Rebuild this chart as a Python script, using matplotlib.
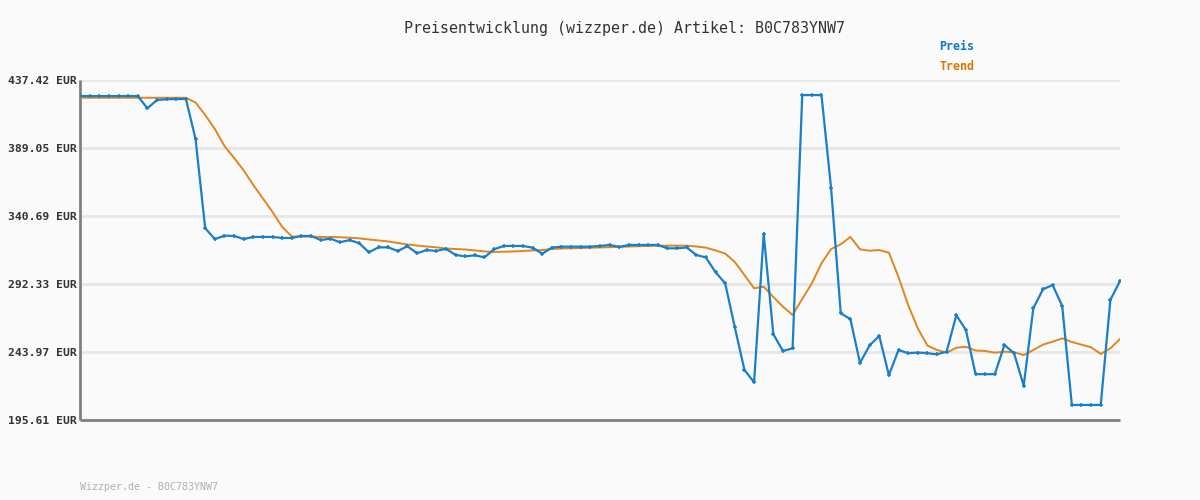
import numpy as np
import matplotlib
matplotlib.use("Agg")
import matplotlib.pyplot as plt

# Preisdaten (EUR)
preis = [426.0, 426.0, 426.0, 426.0, 426.0, 426.0, 426.0, 417.3, 423.2, 423.7,
         423.9, 423.9, 395.5, 332.0, 324.3, 326.7, 326.5, 324.3, 325.8, 325.8,
         325.8, 325.1, 325.1, 326.5, 326.5, 323.6, 324.6, 322.0, 323.6, 321.3,
         314.9, 318.4, 318.4, 315.8, 319.2, 314.2, 316.5, 315.8, 317.4, 313.0,
         312.0, 312.7, 311.3, 317.0, 319.4, 319.4, 319.4, 318.2, 313.9, 318.2,
         318.9, 318.9, 318.9, 318.9, 319.4, 320.1, 318.7, 320.1, 320.1, 320.1,
         320.1, 317.7, 317.7, 318.3, 313.0, 311.2, 300.7, 292.8, 261.5, 231.2,
         222.4, 327.9, 256.6, 244.7, 246.6, 426.7, 426.7, 426.7, 360.4, 271.5,
         267.4, 236.2, 248.7, 255.4, 227.5, 245.4, 243.1, 243.6, 243.1, 242.3,
         244.3, 270.1, 259.6, 228.2, 228.2, 228.2, 249.0, 243.1, 220.0, 275.1,
         288.6, 291.6, 276.7, 206.3, 206.3, 206.3, 206.3, 281.0, 294.5]

trend = [424.8, 424.8, 424.8, 424.8, 424.8, 424.8, 424.8, 424.8, 424.8, 424.8,
         424.8, 424.8, 421.4, 412.5, 402.6, 390.5, 382.0, 373.1, 362.7, 353.1,
         343.5, 332.9, 326.1, 326.1, 326.0, 325.8, 325.8, 325.6, 325.3, 324.8,
         324.0, 323.3, 322.6, 321.5, 320.4, 319.7, 319.0, 318.4, 317.6, 317.2,
         316.9, 316.2, 315.5, 315.1, 315.3, 315.5, 315.8, 316.2, 316.5, 317.2,
         317.6, 317.7, 317.9, 318.1, 318.3, 318.5, 318.7, 319.0, 319.2, 319.4,
         319.6, 319.6, 319.6, 319.6, 319.0, 318.2, 316.2, 314.0, 308.0, 298.7,
         289.3, 290.4, 283.1, 276.2, 270.3, 281.7, 292.8, 307.1, 317.2, 320.6,
         325.8, 317.0, 316.0, 316.5, 314.6, 297.3, 277.4, 260.8, 248.6, 245.4,
         243.5, 247.0, 247.7, 245.0, 244.7, 243.5, 244.2, 243.8, 241.8, 245.4,
         249.2, 251.3, 253.7, 251.1, 249.2, 247.3, 242.6, 246.6, 253.2]

ticks = [195.61, 243.97, 292.33, 340.69, 389.05, 437.42]
tick_labels = ["%.2f EUR" % t for t in ticks]

blau = "#1a7fc9"
orange = "#e0861c"
bg = "#fafafa"
mono = "DejaVu Sans Mono"

fig = plt.figure(figsize=(12, 5), dpi=100, facecolor=bg)
ax = fig.add_axes([80 / 1200, 80 / 500, 1040 / 1200, 340 / 500])
ax.set_facecolor(bg)

x = np.arange(len(preis))
ax.plot(x, trend, color=orange, lw=1.4, zorder=3)
ax.plot(x, preis, color=blau, lw=1.6, marker="+", ms=3.5, mew=1.1, zorder=4)

ax.set_xlim(0, len(preis) - 1)
ax.set_ylim(ticks[0], ticks[-1])
ax.set_yticks(ticks)
ax.set_yticklabels(tick_labels, fontfamily=mono, fontweight="bold",
                   fontsize=8.2, color="#333333")
ax.set_xticks([])
ax.tick_params(axis="y", length=0, pad=2)
ax.grid(axis="y", color="#e6e6e6", lw=2)
ax.set_axisbelow(True)

for s in ["top", "right"]:
    ax.spines[s].set_visible(False)
for s in ["left", "bottom"]:
    ax.spines[s].set_color("#808080")
    ax.spines[s].set_linewidth(2)
    ax.spines[s].set_capstyle("butt")

fig.text(624 / 1200, 1 - 28 / 500, "Preisentwicklung (wizzper.de) Artikel: B0C783YNW7",
         ha="center", va="center", fontfamily=mono, fontsize=10.8, color="#333333")
fig.text(939 / 1200, 1 - 47 / 500, "Preis", ha="left", va="center",
         fontfamily=mono, fontweight="bold", fontsize=8.4, color="#0a78c8")
fig.text(939 / 1200, 1 - 67 / 500, "Trend", ha="left", va="center",
         fontfamily=mono, fontweight="bold", fontsize=8.4, color="#dd7700")
fig.text(80 / 1200, 1 - 487 / 500, "Wizzper.de - B0C783YNW7", ha="left", va="center",
         fontfamily=mono, fontsize=7.2, color="#b0b0b0")

fig.savefig("out.png", dpi=100, facecolor=bg)
